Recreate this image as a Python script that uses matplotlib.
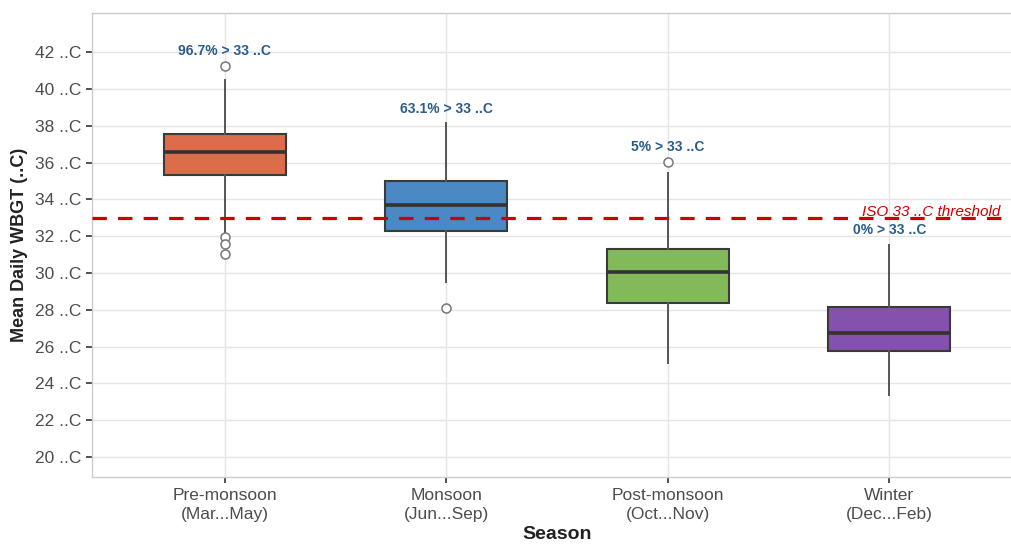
import matplotlib
matplotlib.use("Agg")
import matplotlib.pyplot as plt

plt.rcParams['font.family'] = ['Liberation Sans', 'DejaVu Sans']

categories = ["Pre-monsoon\n(Mar...May)", "Monsoon\n(Jun...Sep)", "Post-monsoon\n(Oct...Nov)", "Winter\n(Dec...Feb)"]
q1 = [35.32, 32.26, 28.35, 25.78]
medians = [36.55, 33.69, 30.03, 26.75]
q3 = [37.55, 35.01, 31.30, 28.13]
whislo = [32.11, 29.52, 25.12, 23.37]
whishi = [40.48, 38.13, 35.44, 31.52]
outliers = [[41.24, 31.97, 31.6, 31.01], [28.08], [36.04], []]
pct_labels = ["96.7% > 33 ..C", "63.1% > 33 ..C", "5% > 33 ..C", "0% > 33 ..C"]
colors = ["#DD6D4A", "#4A89C3", "#83BA59", "#8451AC"]
threshold = 33
yticks = list(range(20, 43, 2))

fig = plt.figure(figsize=(10.11, 5.45), dpi=100)
ax = fig.add_axes([0.091, 0.1248, 0.92, 0.851])

stats = []
for i in range(4):
    stats.append(dict(med=medians[i], q1=q1[i], q3=q3[i], whislo=whislo[i],
                      whishi=whishi[i], fliers=outliers[i], label=categories[i]))
pos = [1, 2, 3, 4]
bp = ax.bxp(stats, positions=pos, widths=0.55, patch_artist=True, showcaps=False,
            boxprops=dict(edgecolor="#3A3A3A", linewidth=1.5),
            medianprops=dict(color="#333333", linewidth=2.6),
            whiskerprops=dict(color="#555555", linewidth=1.4),
            flierprops=dict(marker='o', markerfacecolor='white', markeredgecolor='#777777',
                            markersize=6.5, markeredgewidth=1.1),
            zorder=3)
for patch, c in zip(bp['boxes'], colors):
    patch.set_facecolor(c)

ax.axhline(threshold, color="#CC0000", linestyle=(0, (4.5, 3.5)), linewidth=2.3, zorder=4)
ax.text(4.5, threshold + 0.08, "ISO 33 ..C threshold", color="#CC0000", fontstyle='italic',
        fontsize=11, ha='right', va='baseline', zorder=5)

for i in range(4):
    top = max([whishi[i]] + outliers[i])
    ax.text(pos[i], top + 0.8, pct_labels[i], color="#2B5C8A", fontweight='bold',
            fontsize=10, ha='center', va='center', zorder=5)

ax.set_xlim(0.4, 4.6)
ax.set_ylim(18.91, 44.12)
ax.set_yticks(yticks)
ax.set_yticklabels([f"{t} ..C" for t in yticks])
ax.set_xticks(pos)
ax.set_xticklabels(categories, linespacing=1.3)
ax.grid(True, color="#E5E5E5", linewidth=1.0, zorder=0)
ax.set_axisbelow(True)
for s in ax.spines.values():
    s.set_color("#CCCCCC")
    s.set_linewidth(1.0)
ax.tick_params(axis='both', colors="#333333", labelcolor="#4D4D4D", labelsize=12.5,
               length=4, width=1.2)
ax.tick_params(axis='x', pad=4)
ax.set_ylabel("Mean Daily WBGT (..C)", fontsize=13, fontweight='bold', color="#222222", labelpad=5)
ax.set_xlabel("Season", fontsize=14, fontweight='bold', color="#222222", labelpad=3)

fig.savefig("out.png", dpi=100)
